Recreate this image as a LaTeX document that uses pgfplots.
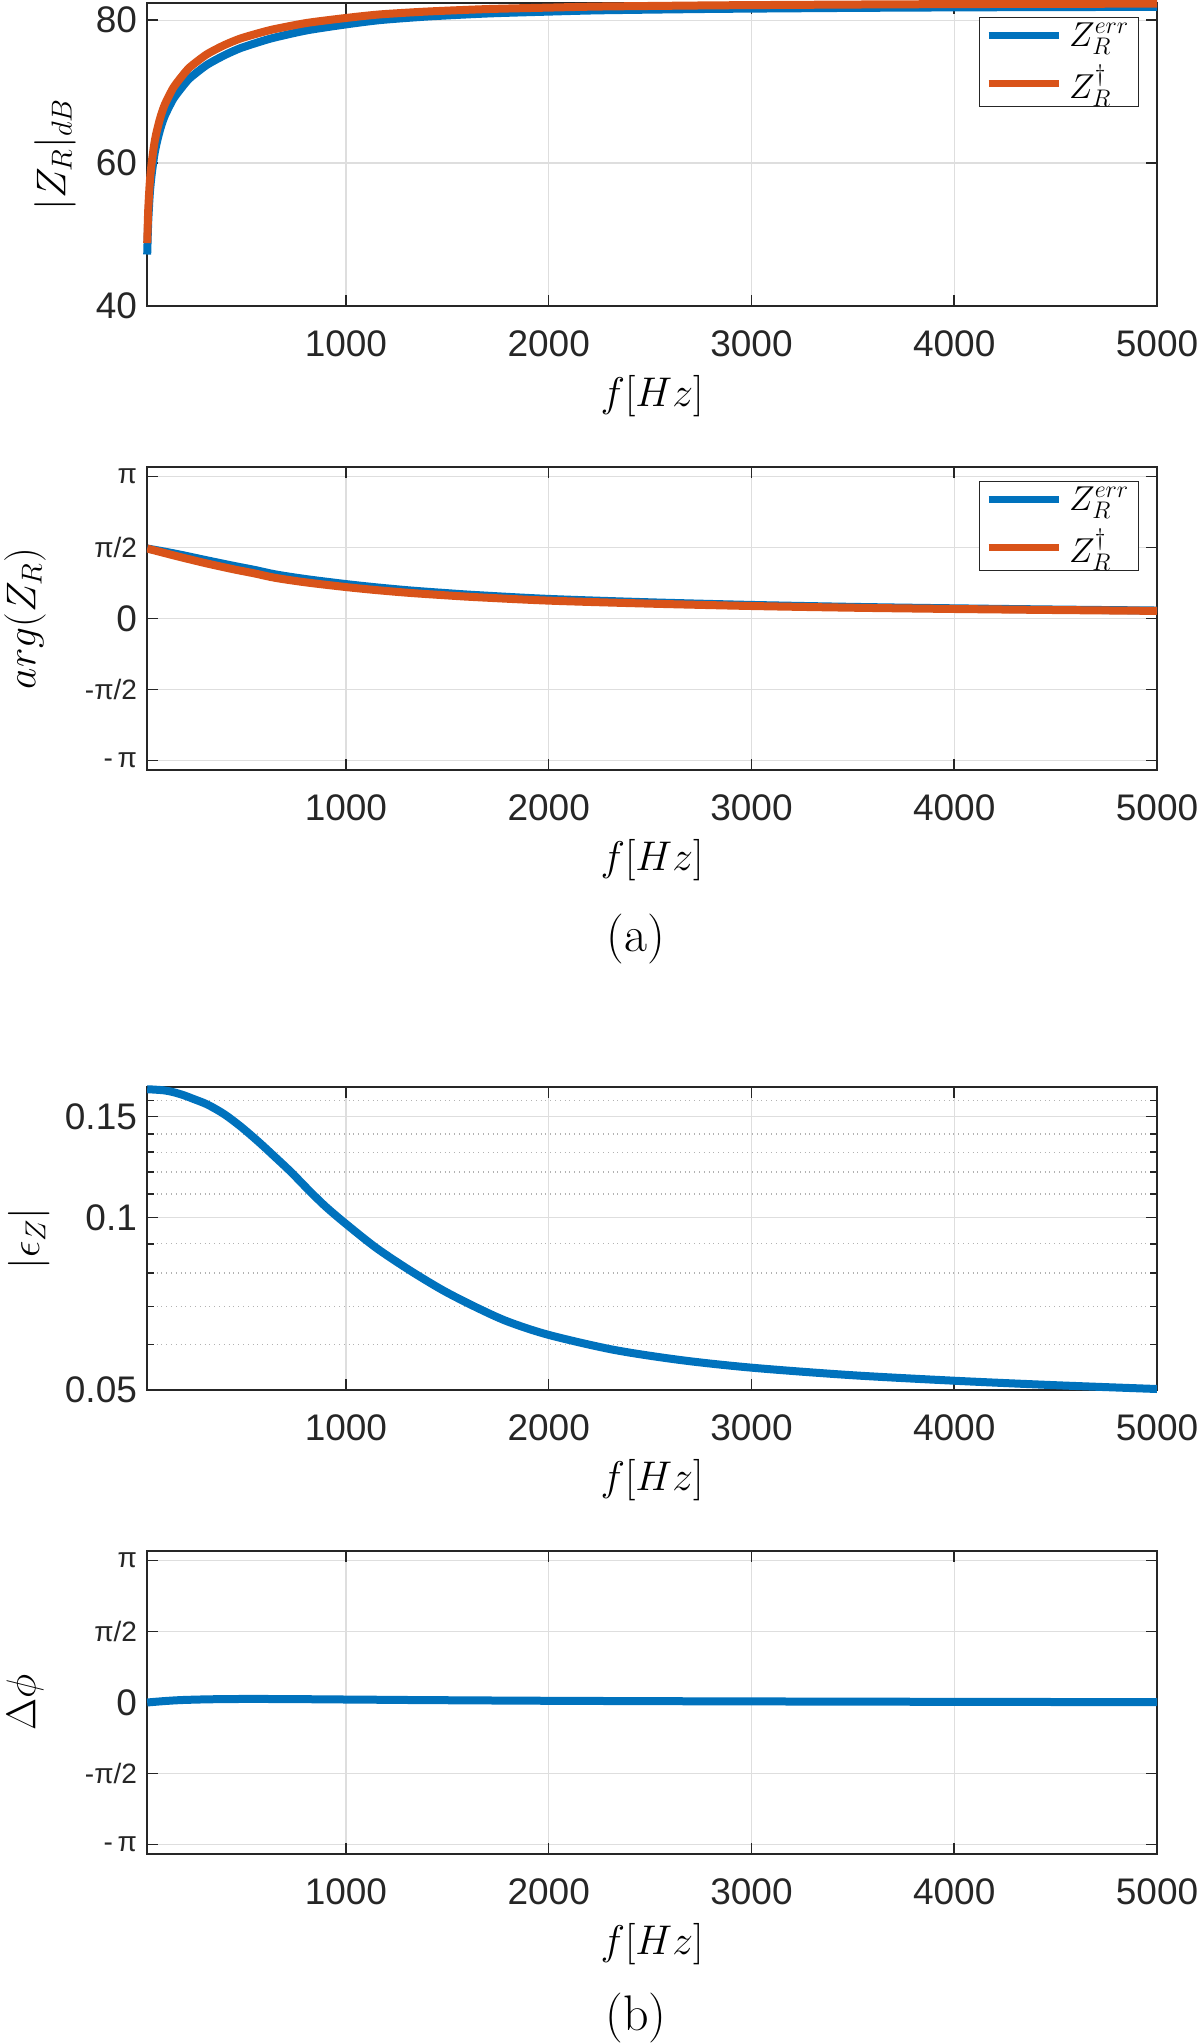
\documentclass[border=0pt]{standalone}
\usepackage{fontspec}
\usepackage{pgfplots}
\pgfplotsset{compat=1.18}
\newfontfamily\tickfont{Liberation Sans}
\definecolor{mblue}{RGB}{0,114,189}
\definecolor{morange}{RGB}{217,83,25}
\definecolor{axcol}{RGB}{38,38,38}
\newcommand\ticksz{\tickfont\fontsize{18.5}{20}\selectfont}
\newcommand\pisz{\tickfont\fontsize{14}{15}\selectfont}
\newcommand\ylabsz{\fontsize{21}{25}\selectfont}
\pgfplotsset{
  myaxis/.style={
    scale only axis, width=505pt, height=151.5pt,
    xmin=19, xmax=5000,
    xtick={1000,2000,3000,4000,5000},
    xticklabels={1000,2000,3000,4000,5000},
    tick align=inside,
    major tick length=5.5pt,
    minor tick length=3.5pt,
    every tick/.style={axcol, line width=0.8pt},
    axis line style={axcol, line width=0.9pt},
    xmajorgrids, ymajorgrids,
    major grid style={black!13, line width=0.6pt},
    tick label style={font=\ticksz, text=axcol},
    xticklabel style={yshift=-9pt},
    yticklabel style={xshift=-1.5pt},
    xlabel style={font=\fontsize{20}{24}\selectfont, at={(axis description cs:0.5,-0.297)}, anchor=center},
    xlabel={$f[Hz]$},
    legend style={at={(0.982,0.954)}, anchor=north east, draw=axcol, line width=0.6pt,
      fill=white, font=\fontsize{18}{20}\selectfont, inner xsep=3pt, inner ysep=1pt,
      nodes={inner sep=1.5pt}, column sep=2pt,
      row sep=5pt, cells={anchor=west}},
    legend image code/.code={\draw[#1,line width=3.5pt] (0pt,0pt) -- (35pt,0pt);},
  },
  pilabels/.style={
    ymin=-3.35, ymax=3.35,
    ytick={-3.14159,-1.5708,0,1.5708,3.14159},
    yticklabels={{\pisz -\,π},{\pisz -π/2},0,{\pisz π/2},{\pisz π}},
  }
}
\begin{document}
\begin{tikzpicture}
\useasboundingbox (0,0) rectangle (600pt,1022pt);

% ---------- (a) top: magnitude ----------
\begin{axis}[myaxis, at={(73.5pt,869pt)}, anchor=south west,
  ymin=40, ymax=82.4, ytick={40,60,80}, yticklabels={40,60,80},
  clip=false,
  ylabel={$|Z_R|_{dB}$},
  every axis y label/.style={at={(axis description cs:-0.0911,0.5)}, rotate=90, anchor=center, font=\ylabsz}]
\addplot[color=mblue, line width=4pt, smooth, tension=0.4] coordinates {
(20,47.2) (25,51.8) (33,55.8) (42,58.4) (55,61.1) (66,62.7) (85,64.82) (107,66.63)
(148,68.94) (190,70.55) (230,71.87) (313,73.71) (400,75.07) (477,76.05) (560,76.83)
(641,77.51) (806,78.56) (1000,79.4) (1168,80.0) (1400,80.5) (1700,80.93) (2000,81.19)
(2250,81.37) (2750,81.55) (3000,81.61) (3500,81.71) (4000,81.78) (4500,81.825) (5000,81.85)
};
\addlegendentry{$Z_R^{err}$}
\addplot[color=morange, line width=4pt, smooth, tension=0.4] coordinates {
(20,48.8) (25,53.4) (33,57.4) (42,60.0) (55,62.7) (66,64.3) (85,66.4) (107,68.2)
(148,70.5) (190,72.1) (230,73.4) (313,75.2) (400,76.5) (477,77.4) (560,78.1)
(641,78.7) (806,79.6) (1000,80.3) (1168,80.8) (1400,81.2) (1700,81.55) (2000,81.75)
(2250,81.9) (2750,82.05) (3000,82.1) (3500,82.18) (4000,82.24) (4500,82.28) (5000,82.3)
};
\addlegendentry{$Z_R^{\dagger}$}
\end{axis}

% ---------- (a) bottom: phase ----------
\begin{axis}[myaxis, pilabels, at={(73.5pt,637pt)}, anchor=south west,
  ylabel={$arg(Z_R)$},
  every axis y label/.style={at={(axis description cs:-0.1208,0.5)}, rotate=90, anchor=center, font=\ylabsz}]
\addplot[color=mblue, line width=4pt, smooth, tension=0.5] coordinates {
(20,1.547) (50,1.524) (100,1.484) (150,1.441) (200,1.396) (317,1.284) (450,1.161)
(550,1.074) (650,0.977) (800,0.873) (1000,0.761) (1150,0.689) (1317,0.620) (1500,0.560)
(1650,0.516) (2000,0.433) (2483,0.360) (3000,0.300) (3500,0.257) (4000,0.225) (4500,0.198) (5000,0.176)
};
\addlegendentry{$Z_R^{err}$}
\addplot[color=morange, line width=4pt, smooth, tension=0.5] coordinates {
(20,1.547) (50,1.512) (100,1.454) (150,1.396) (200,1.340) (317,1.214) (450,1.084)
(550,0.996) (650,0.900) (800,0.800) (1000,0.695) (1150,0.628) (1317,0.565) (1500,0.510)
(1650,0.470) (2000,0.395) (2483,0.330) (3000,0.276) (3500,0.238) (4000,0.210) (4500,0.187) (5000,0.168)
};
\addlegendentry{$Z_R^{\dagger}$}
\end{axis}

\node[font=\fontsize{25}{30}\selectfont] at (318pt,552.5pt) {(a)};

% ---------- (b) top: error magnitude ----------
\begin{axis}[myaxis, at={(73.5pt,327pt)}, anchor=south west,
  ymode=log, ymin=0.05, ymax=0.169,
  ytick={0.05,0.1,0.15}, yticklabels={0.05,0.1,0.15},
  minor ytick={0.06,0.07,0.08,0.09,0.11,0.12,0.13,0.14,0.16},
  yminorgrids,
  minor grid style={black!30, dotted, line width=0.7pt},
  clip=false,
  ylabel={$|\epsilon_Z|$},
  every axis y label/.style={at={(axis description cs:-0.117,0.5)}, rotate=90, anchor=center, font=\ylabsz}]
\addplot[color=mblue, line width=4pt, smooth, tension=0.5] coordinates {
(20,0.1675) (100,0.1668) (150,0.1655) (200,0.1635) (250,0.1610) (317,0.1575) (400,0.1515)
(483,0.1440) (570,0.1355) (650,0.1276) (730,0.1200) (817,0.1116) (900,0.1045) (1000,0.0975)
(1150,0.0885) (1317,0.0808) (1483,0.0745) (1650,0.0695) (1800,0.0658) (2000,0.0624)
(2317,0.0588) (2650,0.0564) (3000,0.0547) (3483,0.0531) (4000,0.0519) (4483,0.0510) (5000,0.0502)
};
\end{axis}

% ---------- (b) bottom: phase error ----------
\begin{axis}[myaxis, pilabels, at={(73.5pt,95pt)}, anchor=south west,
  ylabel={$\Delta\phi$},
  every axis y label/.style={at={(axis description cs:-0.1208,0.5)}, rotate=90, anchor=center, font=\ylabsz}]
\addplot[color=mblue, line width=4pt, smooth, tension=0.5] coordinates {
(20,0.0) (50,0.012) (100,0.030) (150,0.045) (200,0.056) (317,0.070) (450,0.077) (550,0.078)
(650,0.077) (800,0.073) (1000,0.066) (1150,0.061) (1317,0.055) (1500,0.050) (1650,0.046)
(2000,0.038) (2483,0.030) (3000,0.024) (3500,0.019) (4000,0.015) (4500,0.011) (5000,0.008)
};
\end{axis}

\node[font=\fontsize{25}{30}\selectfont] at (318pt,13pt) {(b)};
\end{tikzpicture}
\end{document}
